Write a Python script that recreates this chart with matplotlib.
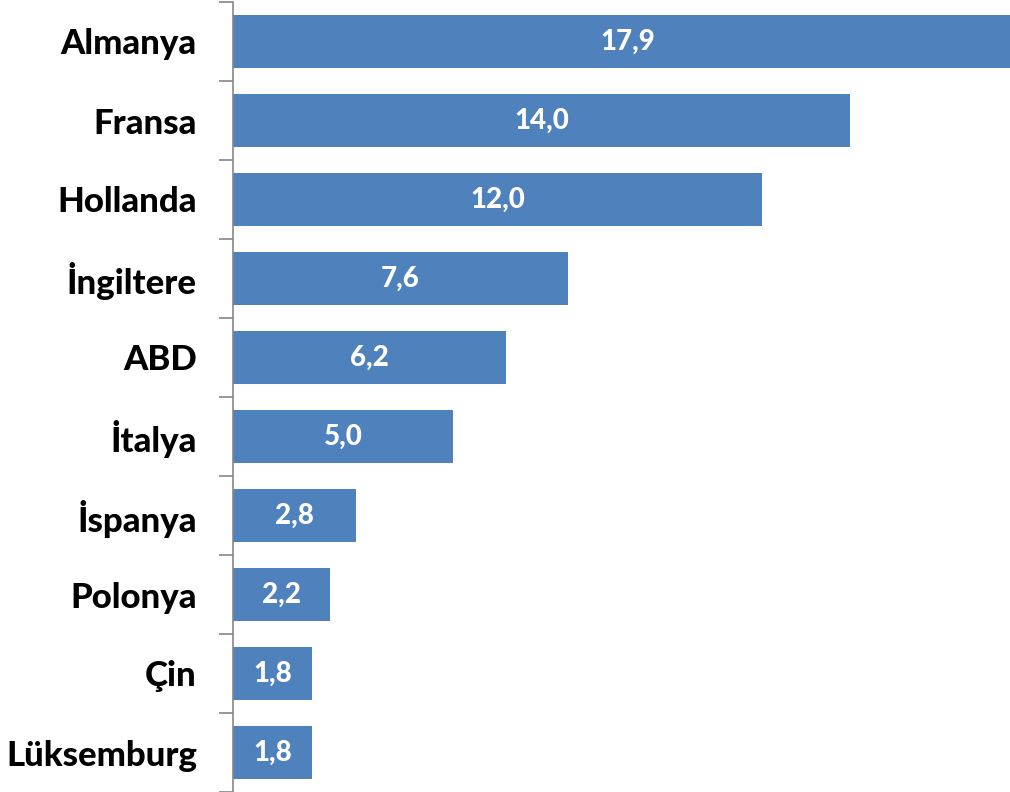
import matplotlib.pyplot as plt
from matplotlib.ticker import FixedLocator

countries = ["Almanya", "Fransa", "Hollanda", "İngiltere", "ABD",
             "İtalya", "İspanya", "Polonya", "Çin", "Lüksemburg"]
values = [17.9, 14.0, 12.0, 7.6, 6.2, 5.0, 2.8, 2.2, 1.8, 1.8]

bar_color = "#4F81BD"
axis_color = "#868686"

fig = plt.figure(figsize=(10.10, 7.92), dpi=100)
ax = fig.add_axes([233 / 1010, 0.0, 1 - 233 / 1010, 790 / 792])

pos = list(range(len(countries)))
ax.barh(pos, values, height=0.67, color=bar_color, zorder=2)

for p, v in zip(pos, values):
    ax.text(v / 2, p, f"{v:.1f}".replace(".", ","), ha="center", va="center",
            color="white", fontsize=20, fontweight="black", family="Lato")

ax.set_xlim(0, 17.63)
ax.set_ylim(len(countries) - 0.5, -0.5)

ax.set_yticks(pos)
ax.set_yticklabels(countries, fontsize=25, fontweight="black", family="Lato")
ax.yaxis.set_minor_locator(FixedLocator([i - 0.5 for i in range(len(countries) + 1)]))
ax.tick_params(axis="y", which="major", length=0, pad=26)
ax.tick_params(axis="y", which="minor", length=10, width=1.2, color=axis_color, direction="out")
ax.set_xticks([])

for s in ["top", "right", "bottom"]:
    ax.spines[s].set_visible(False)
ax.spines["left"].set_color(axis_color)
ax.spines["left"].set_linewidth(1.2)
ax.spines["left"].set_zorder(3)

fig.savefig("out.png", dpi=100)
